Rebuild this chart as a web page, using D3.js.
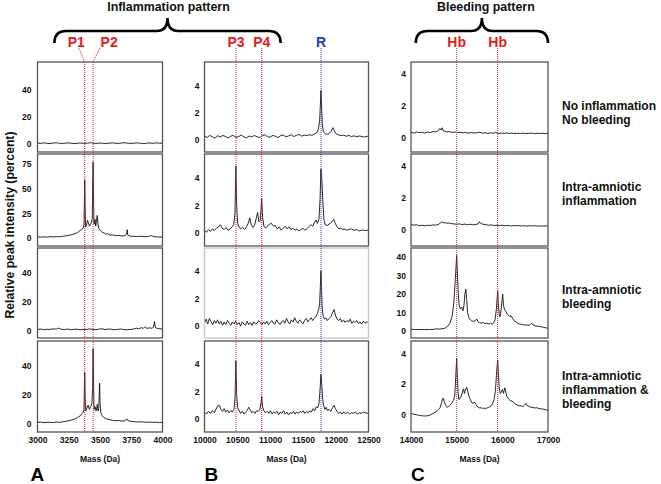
<!DOCTYPE html>
<html><head><meta charset="utf-8">
<script src="https://cdn.jsdelivr.net/npm/d3@7"></script>
<style>
body{margin:0;background:#fff;}
svg{display:block;font-family:"Liberation Sans",Arial,Helvetica,sans-serif;font-weight:bold;}
</style></head><body>
<svg id="chart" width="661" height="484"></svg>
<script>
// ---------------- DATA ----------------
const massRangeA = [3000, 4000];
const massRangeB = [10000, 12500];
const massRangeC = [14000, 17000];
const xTicksA = [3000, 3250, 3500, 3750, 4000];
const xTicksB = [10000, 10500, 11000, 11500, 12000, 12500];
const xTicksC = [14000, 15000, 16000, 17000];
const yTicksA = [[0,20,40],[0,25,50,75],[0,20,40],[0,20,40]];
const yTicksB = [[0,2,4],[0,2,4],[0,2,4],[0,2,4]];
const yTicksC = [[0,2,4],[0,2,4],[0,10,20,30,40],[0,2,4]];
const groupLabels = [["No inflammation","No bleeding"],["Intra-amniotic","inflammation"],["Intra-amniotic","bleeding"],["Intra-amniotic","inflammation &","bleeding"]];
const columnLetters = ["A","B","C"];
const patternTitles = ["Inflammation pattern","Bleeding pattern"];
const markersA = [{label:"P1",mass:3378},{label:"P2",mass:3445}];
const markersB = [{label:"P3",mass:10480},{label:"P4",mass:10872},{label:"R",mass:11776}];
const markersC = [{label:"Hb",mass:15000},{label:"Hb",mass:15898}];

// spectra: [mass (Da), relative intensity (%)]
const specA1 = [[3000,0.6],[3025,0.4],[3050,0.8],[3075,0.5],[3100,0.3],[3125,0.7],[3150,0.9],[3175,0.5],[3200,0.4],[3225,0.6],[3250,0.8],[3275,0.5],[3300,0.3],[3325,0.6],[3350,0.7],[3375,0.4],[3400,0.6],[3425,0.9],[3450,0.5],[3475,0.4],[3500,0.7],[3525,0.5],[3550,0.3],[3575,0.6],[3600,0.8],[3625,0.5],[3650,0.4],[3675,0.7],[3700,0.9],[3725,0.5],[3750,0.4],[3775,0.6],[3800,0.8],[3825,0.5],[3850,0.3],[3875,0.6],[3900,0.7],[3925,0.5],[3950,0.8],[3975,0.6],[4000,0.5]];
const specA2 = [[3000,1.2],[3025,0.9],[3050,1.3],[3075,1.0],[3100,1.4],[3125,1.1],[3150,1.5],[3175,1.3],[3200,1.8],[3225,2.2],[3250,2.8],[3275,3.5],[3300,4.5],[3320,5.5],[3340,7.5],[3355,9],[3365,10],[3372,14],[3376,45],[3378,59],[3381,30],[3385,11],[3392,13],[3400,18],[3408,15],[3416,12],[3424,14],[3432,16],[3438,20],[3442,60],[3445,77],[3448,40],[3452,14],[3460,19],[3466,12],[3472,18],[3478,23],[3484,14],[3490,10],[3500,8],[3515,6],[3530,5.5],[3545,4],[3560,4.5],[3580,3],[3600,3.2],[3625,2.5],[3650,2.8],[3675,2],[3700,2.5],[3712,4],[3718,8.5],[3722,3],[3740,2],[3770,1.8],[3800,1.5],[3830,1.9],[3860,1.4],[3890,1.7],[3910,2.6],[3930,1.5],[3960,1.2],[4000,0.9]];
const specA3 = [[3000,0.8],[3025,1.2],[3050,0.7],[3075,1.0],[3100,0.9],[3125,1.3],[3150,1.1],[3170,1.8],[3190,1.0],[3215,0.8],[3240,1.2],[3265,0.7],[3290,0.9],[3315,1.1],[3340,0.6],[3365,1.0],[3390,0.8],[3415,1.3],[3440,0.9],[3465,0.7],[3490,1.1],[3515,1.4],[3540,0.8],[3565,1.2],[3590,1.0],[3615,0.7],[3640,0.9],[3665,1.2],[3690,0.8],[3715,0.6],[3740,0.9],[3765,1.1],[3790,1.8],[3810,1.3],[3830,2.2],[3845,1.5],[3860,2.8],[3875,1.6],[3895,2.0],[3915,1.7],[3928,2.5],[3936,6.4],[3942,2.2],[3960,1.5],[3980,1.3],[4000,1.2]];
const specA4 = [[3000,1.0],[3025,1.3],[3050,0.9],[3075,1.1],[3100,1.2],[3125,0.9],[3150,1.4],[3175,1.1],[3200,1.5],[3225,1.8],[3250,2.2],[3275,2.8],[3300,3.5],[3320,4.5],[3340,5.5],[3355,7],[3365,8],[3372,10],[3376,30],[3378,35.5],[3381,18],[3386,9],[3395,11],[3405,13],[3415,10],[3425,12],[3435,14],[3441,25],[3445,51.7],[3448,30],[3452,10],[3460,12],[3468,9],[3474,11],[3478,13.5],[3484,9],[3490,11],[3494,20],[3497,28],[3500,15],[3506,8],[3515,6],[3530,4.5],[3550,3.5],[3575,3],[3600,2.5],[3625,2.2],[3650,2.4],[3675,2],[3700,2.2],[3715,3.5],[3722,2.4],[3745,1.8],[3775,1.6],[3800,1.4],[3830,1.5],[3860,1.2],[3890,1.3],[3920,1.1],[3950,1.2],[3975,1.0],[4000,1.1]];

const specB1 = [[10000,0.25],[10040,0.15],[10080,0.3],[10120,0.2],[10160,0.1],[10200,0.28],[10240,0.18],[10280,0.3],[10320,0.22],[10360,0.12],[10400,0.25],[10440,0.3],[10480,0.15],[10520,0.22],[10560,0.32],[10600,0.2],[10640,0.12],[10680,0.26],[10720,0.18],[10760,0.3],[10800,0.2],[10840,0.14],[10880,0.28],[10920,0.35],[10960,0.2],[11000,0.16],[11040,0.3],[11080,0.24],[11120,0.14],[11160,0.28],[11200,0.34],[11240,0.2],[11280,0.26],[11320,0.36],[11360,0.22],[11400,0.3],[11440,0.38],[11480,0.25],[11520,0.33],[11560,0.28],[11600,0.36],[11640,0.3],[11680,0.42],[11710,0.5],[11735,0.75],[11755,1.4],[11768,2.8],[11776,3.65],[11784,2.6],[11795,1.2],[11810,0.6],[11840,0.42],[11870,0.38],[11900,0.45],[11930,0.6],[11955,0.88],[11975,0.7],[12000,0.45],[12040,0.35],[12080,0.28],[12120,0.32],[12160,0.24],[12200,0.3],[12240,0.22],[12280,0.27],[12320,0.2],[12360,0.26],[12400,0.22],[12440,0.18],[12480,0.24],[12500,0.2]];
const specB2 = [[10000,0.2],[10030,0.05],[10060,0.25],[10090,0.1],[10120,0.3],[10150,0.18],[10180,0.35],[10210,0.45],[10240,0.6],[10270,0.35],[10300,0.25],[10330,0.4],[10360,0.2],[10390,0.3],[10420,0.45],[10445,0.6],[10465,1.5],[10478,4.9],[10490,2.0],[10505,0.7],[10525,0.45],[10550,0.3],[10580,0.4],[10610,0.25],[10640,0.45],[10665,0.7],[10690,1.1],[10715,0.55],[10740,0.4],[10765,0.6],[10790,1.1],[10810,1.5],[10830,0.8],[10850,0.9],[10862,1.8],[10872,2.5],[10885,1.2],[10905,0.5],[10930,0.35],[10960,0.5],[10990,0.65],[11020,0.7],[11050,0.5],[11080,0.55],[11110,0.3],[11140,0.45],[11170,0.2],[11200,0.35],[11230,0.5],[11260,0.3],[11290,0.45],[11320,0.25],[11350,0.35],[11380,0.2],[11410,0.3],[11440,0.15],[11470,0.25],[11500,0.35],[11530,0.2],[11560,0.3],[11590,0.45],[11620,0.6],[11650,0.5],[11680,0.8],[11700,0.95],[11720,0.7],[11745,1.0],[11762,2.5],[11775,4.67],[11790,3.8],[11805,2.2],[11820,1.0],[11840,0.6],[11870,0.55],[11900,0.65],[11940,0.8],[11970,1.0],[11995,0.7],[12020,0.45],[12050,0.3],[12080,0.35],[12110,0.25],[12140,0.3],[12170,0.2],[12200,0.25],[12240,0.3],[12280,0.2],[12320,0.25],[12360,0.15],[12400,0.22],[12440,0.18],[12480,0.2],[12500,0.12]];
const specB3 = [[10000,0.2],[10025,0.5],[10050,0.15],[10075,0.55],[10100,0.3],[10125,0.1],[10150,0.4],[10175,0.2],[10200,0.45],[10225,0.15],[10250,0.35],[10275,0.05],[10300,0.3],[10325,0.1],[10350,0.4],[10375,0.2],[10400,0.05],[10425,0.3],[10450,0.15],[10475,0.35],[10500,0.1],[10525,0.25],[10550,0.0],[10575,0.3],[10600,0.15],[10625,0.05],[10650,0.35],[10675,0.1],[10700,0.25],[10725,0.05],[10750,0.3],[10775,0.15],[10800,0.2],[10825,0.4],[10850,0.25],[10875,0.1],[10900,0.3],[10925,0.15],[10950,0.35],[10975,0.1],[11000,0.25],[11025,0.4],[11050,0.2],[11075,0.15],[11100,0.45],[11125,0.25],[11150,0.1],[11175,0.3],[11200,0.4],[11225,0.2],[11250,0.55],[11275,0.3],[11300,0.15],[11325,0.45],[11350,0.3],[11375,0.6],[11400,0.35],[11425,0.2],[11450,0.45],[11475,0.3],[11500,0.15],[11525,0.4],[11550,0.55],[11575,0.3],[11600,0.45],[11625,0.6],[11650,0.4],[11675,0.55],[11700,0.7],[11720,0.9],[11740,1.2],[11755,1.6],[11765,2.8],[11775,4.0],[11785,2.5],[11795,1.2],[11810,0.7],[11830,0.5],[11850,0.6],[11870,0.4],[11900,0.55],[11930,0.7],[11955,1.0],[11975,1.2],[11995,0.8],[12020,0.5],[12045,0.4],[12070,0.55],[12095,0.3],[12120,0.45],[12145,0.25],[12170,0.4],[12195,0.3],[12220,0.5],[12245,0.2],[12270,0.35],[12295,0.25],[12320,0.4],[12345,0.2],[12370,0.3],[12395,0.15],[12420,0.35],[12445,0.2],[12470,0.3],[12500,0.25]];
const specB4 = [[10000,0.5],[10030,0.35],[10060,0.55],[10090,0.4],[10120,0.6],[10150,0.45],[10175,0.7],[10200,0.95],[10225,1.0],[10250,0.7],[10275,0.55],[10300,0.75],[10325,0.5],[10350,0.65],[10375,0.45],[10400,0.6],[10425,0.5],[10450,0.7],[10466,1.6],[10478,4.24],[10490,1.8],[10505,0.8],[10525,0.65],[10550,0.4],[10575,0.55],[10600,0.35],[10625,0.5],[10650,0.6],[10675,0.85],[10695,0.7],[10720,0.45],[10745,0.55],[10770,0.4],[10795,0.6],[10820,0.55],[10845,0.7],[10862,1.2],[10872,1.65],[10885,0.9],[10905,0.6],[10930,0.45],[10955,0.55],[10980,0.4],[11005,0.6],[11030,0.35],[11055,0.5],[11080,0.4],[11105,0.55],[11130,0.3],[11155,0.5],[11180,0.4],[11205,0.6],[11230,0.35],[11255,0.5],[11280,0.3],[11305,0.45],[11330,0.4],[11355,0.55],[11380,0.35],[11405,0.5],[11430,0.4],[11455,0.55],[11480,0.45],[11505,0.6],[11530,0.4],[11555,0.55],[11580,0.45],[11605,0.6],[11630,0.5],[11655,0.75],[11680,0.6],[11705,0.9],[11725,0.8],[11745,1.1],[11762,2.2],[11775,3.26],[11788,2.5],[11800,1.5],[11815,1.0],[11835,0.7],[11855,0.85],[11875,0.6],[11900,0.7],[11925,0.55],[11950,0.8],[11975,1.0],[11995,0.75],[12020,0.55],[12045,0.4],[12070,0.5],[12095,0.35],[12120,0.5],[12150,0.4],[12180,0.5],[12210,0.35],[12240,0.45],[12270,0.4],[12300,0.5],[12330,0.35],[12360,0.45],[12390,0.4],[12420,0.5],[12450,0.45],[12480,0.4],[12500,0.45]];

const specC1 = [[14000,0.35],[14060,0.3],[14120,0.38],[14180,0.33],[14240,0.36],[14300,0.3],[14360,0.37],[14420,0.34],[14480,0.4],[14540,0.38],[14600,0.45],[14630,0.6],[14660,0.5],[14680,0.64],[14705,0.45],[14740,0.42],[14780,0.38],[14840,0.4],[14900,0.35],[14960,0.37],[15020,0.33],[15080,0.36],[15140,0.32],[15200,0.35],[15260,0.3],[15320,0.34],[15380,0.31],[15440,0.33],[15500,0.36],[15560,0.3],[15620,0.33],[15680,0.29],[15740,0.32],[15800,0.3],[15860,0.34],[15920,0.28],[15980,0.31],[16040,0.29],[16100,0.32],[16160,0.28],[16220,0.31],[16280,0.27],[16340,0.3],[16400,0.28],[16460,0.31],[16520,0.27],[16580,0.29],[16640,0.31],[16700,0.27],[16760,0.3],[16820,0.28],[16880,0.3],[16940,0.27],[17000,0.29]];
const specC2 = [[14000,0.35],[14060,0.3],[14120,0.33],[14180,0.27],[14240,0.3],[14300,0.26],[14360,0.3],[14420,0.28],[14480,0.32],[14540,0.3],[14600,0.35],[14640,0.42],[14670,0.52],[14700,0.45],[14740,0.46],[14780,0.42],[14830,0.44],[14880,0.4],[14940,0.38],[15000,0.36],[15060,0.38],[15120,0.34],[15180,0.37],[15240,0.33],[15300,0.36],[15360,0.32],[15420,0.35],[15470,0.38],[15500,0.52],[15530,0.4],[15580,0.36],[15640,0.33],[15700,0.3],[15760,0.32],[15820,0.28],[15880,0.3],[15940,0.27],[16000,0.3],[16060,0.26],[16120,0.29],[16180,0.25],[16240,0.28],[16300,0.26],[16360,0.28],[16420,0.25],[16480,0.27],[16540,0.24],[16600,0.27],[16660,0.25],[16720,0.27],[16780,0.24],[16840,0.26],[16900,0.24],[16960,0.26],[17000,0.25]];
const specC3 = [[14000,0.9],[14100,0.8],[14200,0.85],[14300,0.75],[14400,0.8],[14500,0.9],[14550,1.2],[14600,1.0],[14650,1.1],[14700,1.3],[14750,1.6],[14800,2.5],[14850,4],[14900,8],[14940,16],[14970,28],[15000,41],[15015,33],[15035,20],[15055,14],[15080,12],[15110,13],[15140,11],[15160,14],[15180,20],[15200,22.7],[15220,17],[15240,10],[15270,7],[15300,6],[15330,5.5],[15360,5.2],[15400,5.5],[15440,6.5],[15470,5],[15500,4.5],[15540,4.2],[15580,4.6],[15620,4],[15660,4.3],[15700,3.8],[15740,4.2],[15780,3.6],[15810,4.5],[15840,6],[15870,12],[15898,21.6],[15912,15],[15930,9],[15950,7.7],[15975,12],[15995,17],[16008,20],[16025,14],[16050,11.5],[16080,10.5],[16110,9],[16150,8],[16190,8.2],[16220,7],[16260,5.5],[16300,4.8],[16340,4.2],[16380,3.8],[16420,3.6],[16460,3.4],[16500,3.2],[16540,3.3],[16580,3.1],[16620,3.6],[16645,4.2],[16670,3.3],[16720,2.8],[16760,2.6],[16800,2.5],[16850,2.3],[16900,2.0],[16950,1.7],[17000,1.5]];
const specC4 = [[14000,0.1],[14060,0.05],[14120,0.02],[14180,-0.02],[14240,-0.05],[14300,-0.06],[14360,-0.05],[14420,0.0],[14480,0.1],[14540,0.2],[14600,0.35],[14640,0.5],[14670,0.8],[14690,1.05],[14707,1.1],[14725,0.9],[14750,0.7],[14780,0.55],[14810,0.5],[14840,0.6],[14870,0.7],[14900,0.8],[14930,0.95],[14960,1.3],[14980,2.5],[15000,3.66],[15015,2.4],[15030,1.5],[15050,1.0],[15080,1.1],[15110,1.3],[15135,1.6],[15150,1.7],[15170,1.4],[15195,1.7],[15220,1.8],[15245,1.5],[15270,1.2],[15300,1.0],[15330,0.8],[15360,0.75],[15390,0.85],[15420,0.7],[15450,0.55],[15480,0.5],[15510,0.45],[15540,0.48],[15570,0.42],[15600,0.46],[15630,0.4],[15660,0.45],[15700,0.5],[15740,0.55],[15780,0.7],[15820,1.0],[15850,1.6],[15875,2.8],[15898,3.55],[15912,2.8],[15930,1.8],[15955,1.4],[15980,1.5],[16005,1.65],[16025,1.4],[16055,1.76],[16075,1.5],[16100,1.2],[16135,1.05],[16170,0.95],[16210,0.9],[16250,0.8],[16290,0.7],[16330,0.65],[16370,0.6],[16410,0.6],[16450,0.55],[16490,0.65],[16520,0.75],[16550,0.6],[16590,0.55],[16630,0.5],[16670,0.5],[16710,0.45],[16750,0.48],[16800,0.42],[16850,0.4],[16900,0.38],[16950,0.35],[17000,0.3]];

// ---------------- LAYOUT ----------------
const cols = [
  {range:massRangeA, ticks:xTicksA, yTicks:yTicksA, x0:37.5, x1:162.5, spectra:[specA1,specA2,specA3,specA4],
   yDom:[[-6,61],[-8,85],[-5,57],[-5.5,57]], markers:markersA, color:["#e02020","#e02020"]},
  {range:massRangeB, ticks:xTicksB, yTicks:yTicksB, x0:204.5, x1:368.5, spectra:[specB1,specB2,specB3,specB4],
   yDom:[[-0.94,5.8],[-0.95,5.77],[-0.87,5.67],[-0.96,5.7]], markers:markersB, color:["#e02020","#e02020","#2040b8"]},
  {range:massRangeC, ticks:xTicksC, yTicks:yTicksC, x0:411, x1:548, spectra:[specC1,specC2,specC3,specC4],
   yDom:[[-0.875,4.75],[-1,4.75],[-3.8,45],[-1.1,4.8]], markers:markersC, color:["#e02020","#e02020"]}
];
const rows = [[62,152],[154,246],[248,338],[341,432]];
const labelY = [109.5,190.5,294,380];

const svg = d3.select("#chart");
const font = '"Liberation Sans",Arial,Helvetica,sans-serif';
const fmt = d3.format("d");

cols.forEach((c, ci) => {
  const x = d3.scaleLinear().domain(c.range).range([c.x0, c.x1]);
  c.x = x;
  rows.forEach((r, ri) => {
    const y = d3.scaleLinear().domain(c.yDom[ri]).range([r[1], r[0]]);
    const g = svg.append("g");
    const line = d3.line().x(d => x(d[0])).y(d => y(d[1]));
    g.append("path").datum(c.spectra[ri]).attr("d", line)
      .attr("fill","none").attr("stroke","#111").attr("stroke-width",0.9).attr("stroke-linejoin","round");
    g.append("rect").attr("x",c.x0).attr("y",r[0]).attr("width",c.x1-c.x0).attr("height",r[1]-r[0])
      .attr("fill","none").attr("stroke", (ci===1&&ri===2)?"#c4c4c4":"#555").attr("stroke-width",1.3);
    const ya = g.append("g").attr("transform",`translate(${c.x0},0)`)
      .call(d3.axisLeft(y).tickValues(c.yTicks[ri]).tickSize(0).tickPadding(ci===0?6:5).tickFormat(fmt));
    ya.select(".domain").remove();
    ya.selectAll("text").attr("font-size",8.5).attr("font-weight","bold").attr("font-family",font).attr("fill","#111");
  });
  const xa = svg.append("g").attr("transform",`translate(0,${rows[3][1]})`)
    .call(d3.axisBottom(x).tickValues(c.ticks).tickSize(0).tickPadding(5).tickFormat(fmt));
  xa.select(".domain").remove();
  xa.selectAll("text").attr("font-size",8.5).attr("font-weight","bold").attr("font-family",font).attr("fill","#111");
  svg.append("text").attr("x",(c.x0+c.x1)/2).attr("y",462).attr("text-anchor","middle")
    .attr("font-size",8.5).attr("fill","#111").text("Mass (Da)");
  svg.append("text").attr("x", ci===0 ? c.x0-7 : c.x0).attr("y",481).attr("font-size",19).attr("fill","#000")
    .text(columnLetters[ci]);
});

// marker lines
const mk = svg.append("g");
cols.forEach((c, ci) => {
  c.markers.forEach((m, mi) => {
    const xm = c.x(m.mass);
    const col = c.color[mi];
    let topX = xm, lx = xm, yTop = 48;
    if (ci === 0) {
      topX = mi === 0 ? xm - 6 : xm + 6.5;
      lx = mi === 0 ? xm - 8.5 : xm + 16;
      mk.append("line").attr("x1",topX).attr("y1",48).attr("x2",xm).attr("y2",rows[0][0])
        .attr("stroke",col).attr("stroke-width",1).attr("stroke-dasharray","1,1");
      yTop = rows[0][0];
    }
    mk.append("line").attr("x1",xm).attr("x2",xm).attr("y1",yTop).attr("y2",rows[3][1])
      .attr("stroke",col).attr("stroke-width",1).attr("stroke-dasharray","1,1");
    mk.append("text").attr("x",lx).attr("y",47).attr("text-anchor","middle")
      .attr("font-size",14).attr("fill",col).text(m.label);
  });
});

// braces
function brace(x0, x1, yEnd, yBar, yPeak) {
  const cx = (x0 + x1) / 2;
  return `M${x0},${yEnd} Q${x0},${yBar} ${x0+12},${yBar} L${cx-11},${yBar} Q${cx},${yBar} ${cx},${yPeak} Q${cx},${yBar} ${cx+11},${yBar} L${x1-12},${yBar} Q${x1},${yBar} ${x1},${yEnd}`;
}
const braceSpans = [[cols[0].x(3135), cols[1].x(11160)], [cols[2].x(14105), cols[2].x(17000)]];
braceSpans.forEach((b, i) => {
  svg.append("path").attr("d", brace(b[0], b[1], 43, 31, 18))
    .attr("fill","none").attr("stroke","#000").attr("stroke-width",2.6);
  svg.append("text").attr("x",(b[0]+b[1])/2 + (i===0?1:4)).attr("y",11).attr("text-anchor","middle")
    .attr("font-size",12.4).attr("fill","#111").text(patternTitles[i]);
});

// group labels
groupLabels.forEach((lines, i) => {
  const t = svg.append("text").attr("x",562).attr("y",labelY[i]).attr("font-size",12).attr("fill","#111");
  lines.forEach((s, j) => t.append("tspan").attr("x",562).attr("dy", j===0?0:14).text(s));
});

// y title
svg.append("text").attr("transform","translate(14,225) rotate(-90)").attr("text-anchor","middle")
  .attr("font-size",12.2).attr("fill","#111").text("Relative peak intensity (percent)");
</script>
</body></html>
